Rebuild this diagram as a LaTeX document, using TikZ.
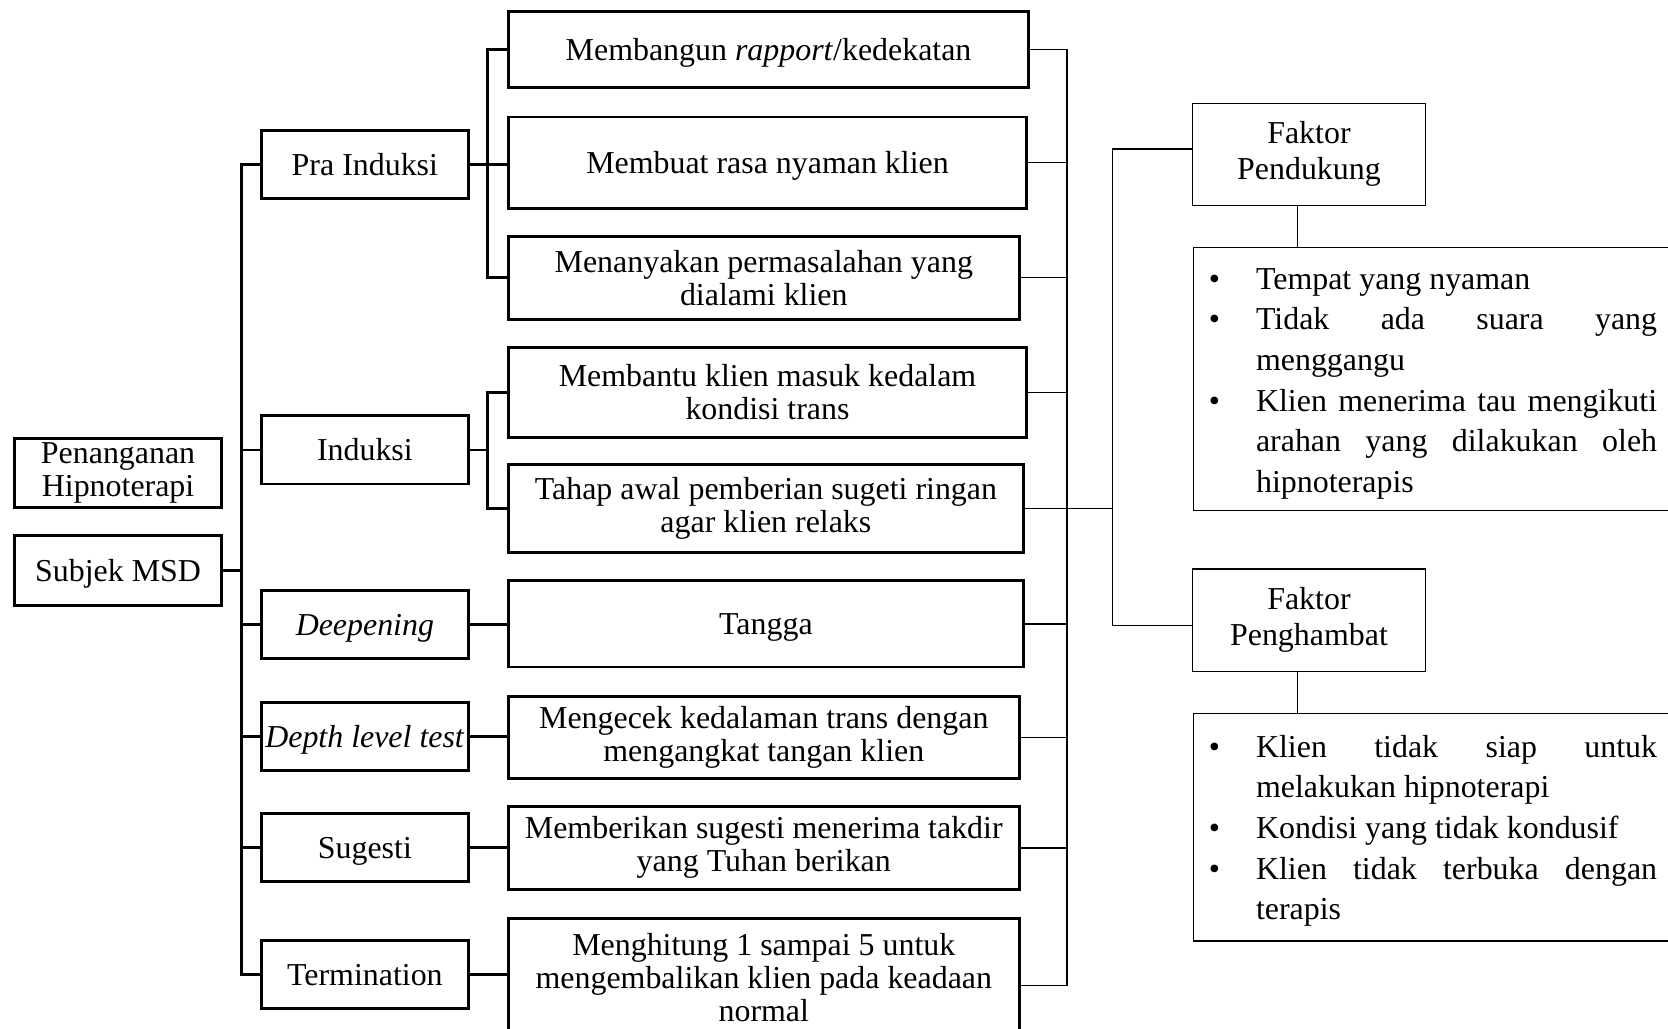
\documentclass[tikz,border=0pt]{standalone}
\usepackage{fontspec}
\setmainfont{Liberation Serif}
\newcommand{\butir}[2]{\begin{minipage}[t][#1][t]{200pt}\fontsize{12}{15.3}\selectfont
  \hyphenpenalty=10000 \tolerance=10000
  \begin{list}{\textbullet}{\setlength\leftmargin{23.6pt}\setlength\rightmargin{25.6pt}%
    \setlength\labelsep{13.5pt}\setlength\labelwidth{10pt}\setlength\itemsep{0pt}%
    \setlength\parsep{0pt}\setlength\topsep{0pt}\setlength\partopsep{0pt}}#2\end{list}%
  \par\nointerlineskip\hbox to\hsize{}\end{minipage}}

\begin{document}
\begin{tikzpicture}[x=0.4pt,y=-0.4pt,
    box/.style={draw,line width=1.1pt,align=center,inner sep=1pt,font=\fontsize{12}{12.4}\selectfont},
    single/.style={text height=8.2pt,text depth=0pt},
    size/.style 2 args={minimum width=#1,minimum height=#2},
    stage/.style={box,single,size={77.6pt}{25.6pt}},
    faktor/.style={draw,line width=0.5pt,align=center,size={87.6pt}{38.4pt},font=\fontsize{12}{13.6}\selectfont},
    listbox/.style={draw,line width=0.6pt,inner sep=0pt,anchor=north west},
    conn/.style={line width=1.1pt},
    link/.style={line width=0.5pt}]
    \useasboundingbox (0,0) rectangle (1568,967);
    \node[box,size={77.6pt}{26pt}] (hipno) at (111,444.5) {Penanganan\\Hipnoterapi};
    \node[box,single,size={77.6pt}{26.4pt}] (subjek) at (111,536) {Subjek MSD};
    \node[stage] (pra) at (343,155) {Pra Induksi};
    \node[stage] (induksi) at (343,423) {Induksi};
    \node[stage] (deepening) at (343,587) {\textit{Deepening}};
    \node[stage] (depth) at (343,692.5) {\textit{Depth level test}};
    \node[stage] (sugesti) at (343,797) {Sugesti};
    \node[stage] (termination) at (343,916) {Termination};
    \node[box,single,size={195.6pt}{28.4pt}] (rapport) at (722.5,46.5) {Membangun \textit{rapport}/kedekatan};
    \node[box,single,size={194.8pt}{34.4pt}] (nyaman) at (721.5,153) {Membuat rasa nyaman klien};
    \node[box,size={192pt}{31.2pt}] (masalah) at (718,261) {Menanyakan permasalahan yang\\dialami klien};
    \node[box,size={194.8pt}{33.6pt}] (trans) at (721.5,369) {Membantu klien masuk kedalam\\kondisi trans};
    \node[box,size={193.6pt}{32.8pt}] (ringan) at (720,478) {Tahap awal pemberian sugeti ringan\\agar klien relaks};
    \node[box,single,size={193.6pt}{32.4pt}] (tangga) at (720,586.5) {Tangga};
    \node[box,size={192pt}{30.8pt}] (angkat) at (718,693.5) {Mengecek kedalaman trans dengan\\mengangkat tangan klien};
    \node[box,size={192pt}{31.2pt}] (takdir) at (718,797) {Memberikan sugesti menerima takdir\\yang Tuhan berikan};
    \node[box,size={192pt}{44.8pt}] (hitung) at (718,919) {Menghitung 1 sampai 5 untuk\\mengembalikan klien pada keadaan\\normal};
    \node[faktor] (pendukung) at (1230.5,145) {Faktor\\Pendukung};
    \node[faktor] (penghambat) at (1230.5,583) {Faktor\\Penghambat};
    \node[listbox] (dukungList) at (1121,232) {\butir{98.8pt}{\item\rule{0pt}{15.6pt}Tempat yang nyaman
      \item Tidak ada suara yang menggangu
      \item Klien menerima tau mengikuti arahan yang dilakukan oleh hipnoterapis}};
    \node[listbox] (hambatList) at (1121,670) {\butir{85.6pt}{\item\rule{0pt}{16.4pt}Klien tidak siap untuk melakukan hipnoterapi
      \item Kondisi yang tidak kondusif
      \item Klien tidak terbuka dengan terapis}};
    \coordinate (trunk) at (227,0);
    \coordinate (prong) at (458,0);
    \coordinate (bus) at (1003,0);
    \coordinate (faktorBus) at (1046,478);
    \draw[conn] (subjek.east) -- (subjek.east -| trunk);
    \draw[conn] (pra.west) -- (pra.west -| trunk) -- (termination.west -| trunk) -- (termination.west);
    \foreach \s in {induksi,deepening,depth,sugesti}
      \draw[conn] (\s.west) -- (\s.west -| trunk);
    \draw[conn] (rapport.west) -- (rapport.west -| prong) -- (masalah.west -| prong) -- (masalah.west);
    \draw[conn] (pra.east) -- (pra.east -| nyaman.west);
    \draw[conn] (trans.west) -- (trans.west -| prong) -- (ringan.west -| prong) -- (ringan.west);
    \draw[conn] (induksi.east) -- (induksi.east -| prong);
    \draw[conn] (deepening.east) -- (deepening.east -| tangga.west);
    \draw[conn] (depth.east) -- (depth.east -| angkat.west);
    \draw[conn] (sugesti.east) -- (sugesti.east -| takdir.west);
    \draw[conn] (termination.east) -- (termination.east -| hitung.west);
    \foreach \d in {rapport,nyaman,masalah,trans,ringan,tangga,angkat,takdir}
      \draw[link] (\d.east) -- (\d.east -| bus);
    \draw[link] ([yshift=-3pt]hitung.east) -- ([yshift=-3pt]hitung.east -| bus) -- (rapport.east -| bus);
    \draw[link] (ringan.east -| bus) -- (faktorBus);
    \draw[link] ([yshift=2pt]pendukung.west) -| (faktorBus) |- ([yshift=-2pt]penghambat.west);
    \draw[link] ([xshift=-4.4pt]pendukung.south) -- ([xshift=-4.4pt]pendukung.south |- dukungList.north);
    \draw[link] ([xshift=-4.4pt]penghambat.south) -- ([xshift=-4.4pt]penghambat.south |- hambatList.north);
\end{tikzpicture}
\end{document}
